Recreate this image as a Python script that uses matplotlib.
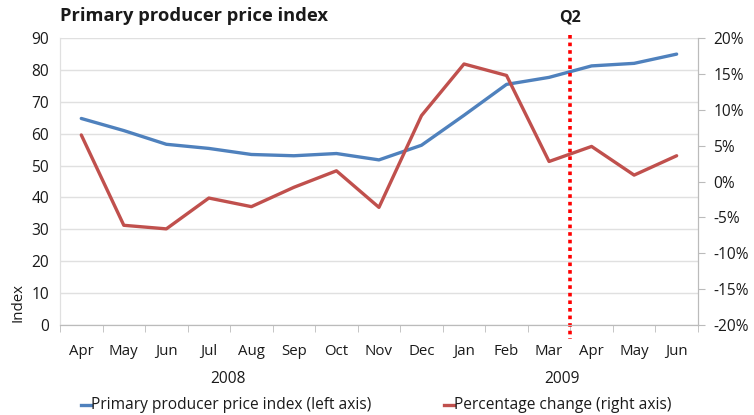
import matplotlib
matplotlib.use("Agg")
import matplotlib.pyplot as plt
import matplotlib.transforms as mtransforms
from matplotlib.ticker import FuncFormatter, FixedLocator

MONTHS = ["Apr", "May", "Jun", "Jul", "Aug", "Sep", "Oct", "Nov", "Dec",
          "Jan", "Feb", "Mar", "Apr", "May", "Jun"]
INDEX = [64.8, 61.0, 56.7, 55.4, 53.5, 53.1, 53.8, 51.8, 56.4,
         65.8, 75.5, 77.7, 81.3, 82.1, 85.0]
PCT_CHANGE = [6.5, -6.1, -6.6, -2.3, -3.5, -0.8, 1.5, -3.6, 9.2,
              16.4, 14.8, 2.8, 4.9, 0.9, 3.6]
YEARS = ["2008", "2009"]
YEAR_POS = [3.45, 11.3]
Q2_POS = 11.5

BLUE = "#4F81BD"
RED = "#C0504D"
GRID = "#E0E0E0"
TXT = "#1a1a1a"

plt.rcParams["font.family"] = ["Open Sans", "DejaVu Sans"]

fig = plt.figure(figsize=(7.54, 4.15), dpi=100)
ax = fig.add_axes([0.0796, 0.217, 0.846, 0.691])
ax2 = ax.twinx()

x = list(range(len(MONTHS)))
ax.plot(x, INDEX, color=BLUE, lw=2.4, solid_capstyle="round", zorder=3)
ax2.plot(x, PCT_CHANGE, color=RED, lw=2.4, solid_capstyle="round", zorder=3)

ax.set_xlim(-0.5, len(MONTHS) - 0.5)
ax.set_ylim(0, 90)
ax.set_yticks(range(0, 91, 10))
ax2.set_ylim(-20, 20)
ax2.set_yticks(range(-20, 21, 5))
ax2.yaxis.set_major_formatter(FuncFormatter(lambda v, p: "%d%%" % v))

ax.set_xticks(x)
ax.set_xticklabels(MONTHS)
ax.xaxis.set_minor_locator(FixedLocator([i - 0.5 for i in range(len(MONTHS) + 1)]))
ax.tick_params(axis="x", which="major", length=0, pad=14, labelsize=10.8, colors=TXT)
ax.tick_params(axis="x", which="minor", length=5, color="#BBBBBB", direction="out")
ax.tick_params(axis="y", length=0, labelsize=11.2, colors=TXT, pad=8)
ax2.tick_params(axis="y", length=5, color="#BBBBBB", labelsize=11.2, colors=TXT, pad=6)

ax.grid(axis="y", color=GRID, lw=1)
ax.set_axisbelow(True)
for a in (ax, ax2):
    a.spines["top"].set_visible(False)
    a.spines["left"].set_color(GRID)
    a.spines["right"].set_color("#BBBBBB")
    a.spines["bottom"].set_color("#BBBBBB")

# Q2 marker
trans = mtransforms.blended_transform_factory(ax.transData, ax.transAxes)
ax.plot([Q2_POS, Q2_POS], [1.01, -0.05], transform=trans, color="#FF0000",
        lw=2.6, ls=(0, (1, 1.1)), clip_on=False, zorder=5)
ax.text(Q2_POS, 1.045, "Q2", transform=trans, ha="center", va="bottom",
        fontsize=11.5, fontweight="bold", color=TXT)

for yr, pos in zip(YEARS, YEAR_POS):
    ax.text(pos, -0.19, yr, transform=trans, ha="center", va="center",
            fontsize=11.2, color=TXT)

fig.text(0.0796, 0.962, "Primary producer price index", ha="left", va="center",
         fontsize=13.2, fontweight="bold", color=TXT)
fig.text(0.024, 0.27, "Index", rotation=90, ha="center", va="center",
         fontsize=10.8, color=TXT)

# legend
ly = 0.025
fig.add_artist(plt.Line2D([0.108, 0.121], [ly, ly], color=BLUE, lw=2.4))
fig.text(0.121, ly, "Primary producer price index (left axis)", ha="left",
         va="center", fontsize=11.2, color=TXT)
fig.add_artist(plt.Line2D([0.589, 0.602], [ly, ly], color=RED, lw=2.4))
fig.text(0.602, ly, "Percentage change (right axis)", ha="left",
         va="center", fontsize=11.2, color=TXT)

fig.savefig("out.png", dpi=100)
